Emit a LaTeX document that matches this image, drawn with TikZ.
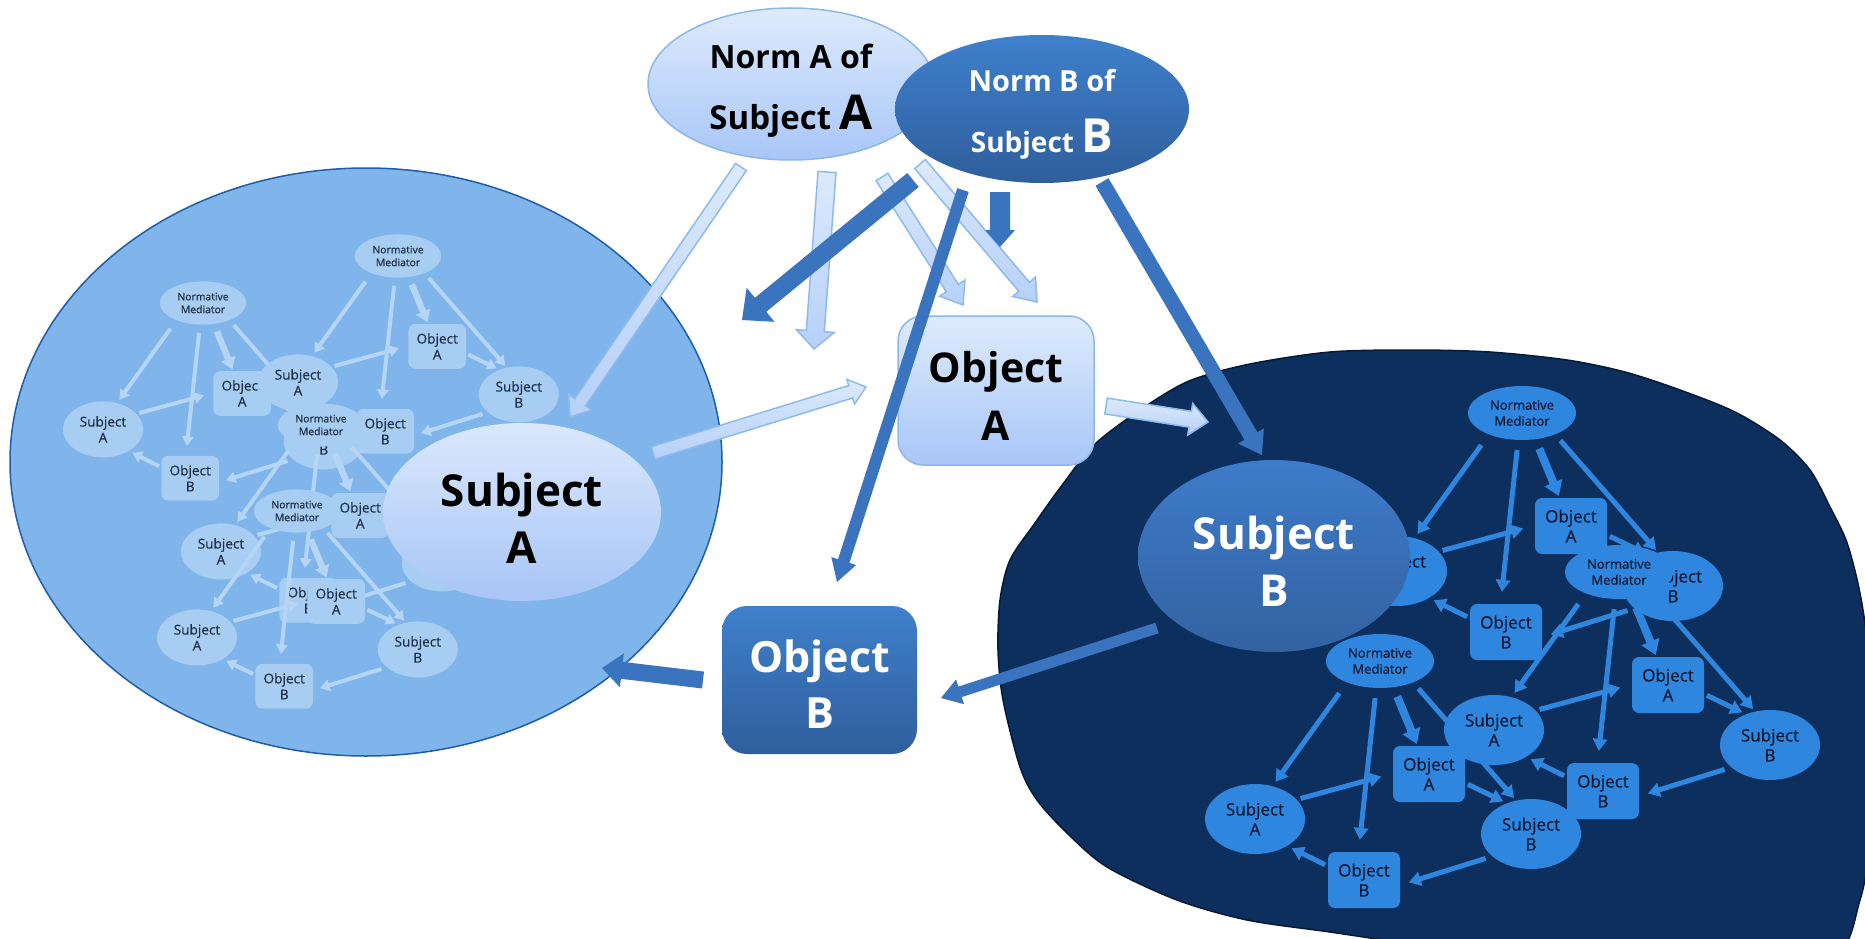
\documentclass[tikz,border=0pt]{standalone}
\usepackage{fontspec}
\setmainfont{Open Sans}
\newfontfamily\unitfont{Open Sans}[FakeBold=0.5]
\usetikzlibrary{shapes.geometric,arrows.meta,calc}
\definecolor{nAt}{HTML}{DEEBFD}
\definecolor{nAb}{HTML}{A8C6F7}
\definecolor{nAd}{HTML}{8DB7EB}
\definecolor{nBt}{HTML}{3F80CC}
\definecolor{nBb}{HTML}{2F5E9C}
\definecolor{sAt}{HTML}{DAE8FC}
\definecolor{sAb}{HTML}{A8C5F7}
\definecolor{sBt}{HTML}{3D7BC9}
\definecolor{sBb}{HTML}{3362A1}
\definecolor{lcirc}{HTML}{7FB5EA}
\definecolor{lcircd}{HTML}{1E5EA8}
\definecolor{rcirc}{HTML}{0D2F5E}
\definecolor{rcircd}{HTML}{061A38}
\definecolor{runit}{HTML}{2E86DE}
\definecolor{rtext}{HTML}{0B1830}
\definecolor{lunit}{HTML}{A8CDF2}
\definecolor{ltext}{HTML}{1E2E48}
\definecolor{larrc}{HTML}{B5D5F5}
\definecolor{darr}{HTML}{3A73BE}
\definecolor{lbt}{HTML}{DCEAFC}
\definecolor{lbb}{HTML}{B6D0F8}
\definecolor{lbd}{HTML}{8FBAEE}

% block arrow: #1 start, #2 tip, #3 half shaft, #4 half head, #5 head length, #6 style
\newcommand\blockarr[6]{%
  \coordinate (bkC) at ($(#2)!#5!(#1)$);
  \path[#6] ($(#1)!#3!90:(#2)$) -- ($(bkC)!#3!90:(#2)$) -- ($(bkC)!#4!90:(#2)$)
    -- (#2) -- ($(bkC)!#4!-90:(#2)$) -- ($(bkC)!#3!-90:(#2)$) -- ($(#1)!#3!-90:(#2)$) -- cycle;}

% mini graph: #1 prefix, #2 x, #3 y, #4 scale, #5 style set
\newcommand\unitgraph[5]{%
\begin{scope}[shift={(#2,#3)},scale=#4,transform shape]
\node[#5nm] (#1nm) at (0,0) {Normative\\Mediator};
\node[#5el] (#1sa) at (-125,158) {Subject\\A};
\node[#5bx] (#1oa) at (49,113) {Object\\A};
\node[#5el] (#1sb) at (151,173) {Subject\\B};
\node[#5bx] (#1ob) at (-16,219) {Object\\B};
\begin{scope}[#5ar, line width={5*#4}]
\draw[shorten <={13*#4}, shorten >={5*#4}] (#1nm.213) -- (#1sa.62);
\draw[shorten <={10*#4}, shorten >={12*#4}] (#1nm.262) -- (#1ob.101);
\draw[line width={8*#4}, -{Triangle[length=0pt 1.8, width=0pt 2.3]}, shorten <={10*#4}, shorten >={2*#4}] (#1nm.297) -- (#1oa.112);
\draw[shorten <={8*#4}, shorten >={3*#4}] (#1nm.327) -- (#1sb.114);
\draw[shorten <={4*#4}, shorten >={12*#4}] (#1sa.25) -- (#1oa.179);
\draw[shorten <={3*#4}, shorten >={4*#4}] (#1oa.346) -- (#1sb.128);
\draw[shorten <={7*#4}, shorten >={9*#4}] (#1sb.210) -- (#1ob.352);
\draw[shorten <={3*#4}, shorten >={5*#4}] (#1ob.159) -- (#1sa.320);
\end{scope}
\end{scope}}

\begin{document}
\begin{tikzpicture}[x=1pt,y=-1pt,
  rnm/.style={ellipse, fill=runit, text=rtext, minimum width=108pt, minimum height=54pt, inner sep=0pt, align=center, font=\unitfont\fontsize{13}{16}\selectfont},
  rel/.style={ellipse, fill=runit, text=rtext, minimum width=100pt, minimum height=70pt, inner sep=0pt, align=center, font=\unitfont\fontsize{17}{20}\selectfont},
  rbx/.style={rectangle, rounded corners=7pt, fill=runit, text=rtext, minimum width=72pt, minimum height=56pt, inner sep=0pt, align=center, font=\unitfont\fontsize{17}{20}\selectfont},
  rar/.style={draw=runit, -{Triangle[length=0pt 2.4, width=0pt 2.8]}},
  lnm/.style={ellipse, fill=lunit, text=ltext, minimum width=108pt, minimum height=54pt, inner sep=0pt, align=center, font=\unitfont\fontsize{13}{16}\selectfont},
  lel/.style={ellipse, fill=lunit, text=ltext, minimum width=100pt, minimum height=70pt, inner sep=0pt, align=center, font=\unitfont\fontsize{17}{20}\selectfont},
  lbx/.style={rectangle, rounded corners=7pt, fill=lunit, text=ltext, minimum width=72pt, minimum height=56pt, inner sep=0pt, align=center, font=\unitfont\fontsize{17}{20}\selectfont},
  lar/.style={draw=larrc, -{Triangle[length=0pt 2.4, width=0pt 2.8]}},
  normA/.style={ellipse, draw=nAd, line width=1.5pt, top color=nAt, bottom color=nAb, minimum width=286pt, minimum height=152pt, inner sep=0pt, align=center, text=black, text height=90pt, text depth=0pt, font={\bfseries\fontsize{32}{61}\selectfont}},
  normB/.style={ellipse, top color=nBt, bottom color=nBb, minimum width=294pt, minimum height=148pt, inner sep=0pt, align=center, text=white, text height=86pt, text depth=0pt, font={\bfseries\fontsize{29}{60}\selectfont}},
  objA/.style={rectangle, rounded corners=25pt, draw=nAd, line width=1.5pt, top color=nAt, bottom color=nAb, minimum width=196pt, minimum height=149pt, inner sep=0pt, align=center, text=black, text height=99pt, text depth=0pt, font={\bfseries\fontsize{41}{58}\selectfont}},
  objB/.style={rectangle, rounded corners=25pt, top color=nBt, bottom color=nBb, minimum width=195pt, minimum height=148pt, inner sep=0pt, align=center, text=white, text height=96pt, text depth=0pt, font={\bfseries\fontsize{43}{56}\selectfont}},
  subjA/.style={ellipse, top color=sAt, bottom color=sAb, minimum width=278pt, minimum height=178pt, inner sep=0pt, align=center, text=black, text height=102pt, text depth=0pt, font={\bfseries\fontsize{44}{57}\selectfont}},
  subjB/.style={ellipse, top color=sBt, bottom color=sBb, minimum width=272pt, minimum height=192pt, inner sep=0pt, align=center, text=white, text height=100pt, text depth=0pt, font={\bfseries\fontsize{44}{57}\selectfont}},
  lightarrow/.style={draw=lbd, line width=1.5pt, top color=lbt, bottom color=lbb},
  darkarrow/.style={fill=darr}
]
\useasboundingbox (0,0) rectangle (1865,939);
\clip (0,0) rectangle (1865,939);

% left world
\draw[fill=lcirc, draw=lcircd, line width=1.5pt] (366,462) ellipse [x radius=356pt, y radius=294pt];
\unitgraph{La}{203}{303}{0.8}{l}
\unitgraph{Lb}{398}{256}{0.8}{l}
\unitgraph{Ld}{321}{425}{0.8}{l}
\unitgraph{Lc}{297}{511}{0.8}{l}
\node[subjA] (sA) at (522,512) {Subject\\A};

% right world
\draw[fill=rcirc, draw=rcircd, line width=1.5pt] plot[smooth cycle, tension=0.5] coordinates {
  (1413,350) (1490,352) (1567,360) (1625,372) (1680,390) (1735,412) (1780,440) (1810,470)
  (1830,507) (1846,540) (1856,575) (1863,610) (1868,650) (1872,700) (1875,760) (1872,830)
  (1860,900) (1830,960) (1700,975) (1550,960) (1420,945) (1330,932) (1247,920) (1177,900)
  (1107,867) (1067,833) (1037,800) (1020,767) (1003,700) (998,650) (1000,600) (1010,560)
  (1035,523) (1060,488) (1094,445) (1140,410) (1189,381) (1250,364) (1330,352)};
\unitgraph{Ra}{1522}{413}{1}{r}
\unitgraph{Rc}{1380}{661}{1}{r}
\unitgraph{Rb}{1619}{572}{1}{r}
\node[subjB] (sB) at (1274,556) {Subject\\B};

% norms and objects
\node[normA] (nA) at (791,84) {Norm A of\\{\fontsize{33}{61}\selectfont Subject} {\fontsize{48}{61}\selectfont A}};
\node[normB] (nB) at (1042,109) {Norm B of\\{\fontsize{28}{60}\selectfont Subject} {\fontsize{47}{60}\selectfont B}};
\node[objA] (oA) at (996,390.5) {Object\\A};
\node[objB] (oB) at (819.5,680) {Object\\B};

% arrow end points
\coordinate (a1s) at (741,167); \coordinate (a1e) at (570,417);
\coordinate (a2s) at (827,172); \coordinate (a2e) at (814,349);
\coordinate (a3s) at (882,177); \coordinate (a3e) at (963,305);
\coordinate (a4s) at (920,164); \coordinate (a4e) at (1037,302);
\coordinate (a5s) at (653,453); \coordinate (a5e) at (866,387);
\coordinate (a6s) at (1106,406); \coordinate (a6e) at (1208,422);
\coordinate (d7s) at (913,180); \coordinate (d7e) at (742,320);
\coordinate (d8s) at (1000,192); \coordinate (d8e) at (1000,247);
\coordinate (d9s) at (963,190); \coordinate (d9e) at (837,582);
\coordinate (d10s) at (1102,182); \coordinate (d10e) at (1262,455);
\coordinate (d11s) at (703,680); \coordinate (d11e) at (602,668);
\coordinate (d12s) at (1157,628); \coordinate (d12e) at (941,698);

% light (norm A) arrows
\blockarr{a1s}{a1e}{6.5pt}{14pt}{18pt}{lightarrow}
\blockarr{a2s}{a2e}{9pt}{19pt}{18pt}{lightarrow}
\blockarr{a3s}{a3e}{7pt}{15pt}{20pt}{lightarrow}
\blockarr{a4s}{a4e}{7pt}{15pt}{20pt}{lightarrow}
\blockarr{a5s}{a5e}{6.5pt}{13pt}{16pt}{lightarrow}
\blockarr{a6s}{a6e}{8pt}{16pt}{18pt}{lightarrow}

% dark (norm B) arrows
\blockarr{d7s}{d7e}{9pt}{22pt}{24pt}{darkarrow}
\blockarr{d8s}{d8e}{10pt}{15pt}{17pt}{darkarrow}
\blockarr{d9s}{d9e}{6pt}{13pt}{22pt}{darkarrow}
\blockarr{d10s}{d10e}{7.5pt}{15pt}{22pt}{darkarrow}
\blockarr{d11s}{d11e}{8.5pt}{17pt}{20pt}{darkarrow}
\blockarr{d12s}{d12e}{5.5pt}{13pt}{20pt}{darkarrow}
\end{tikzpicture}
\end{document}
